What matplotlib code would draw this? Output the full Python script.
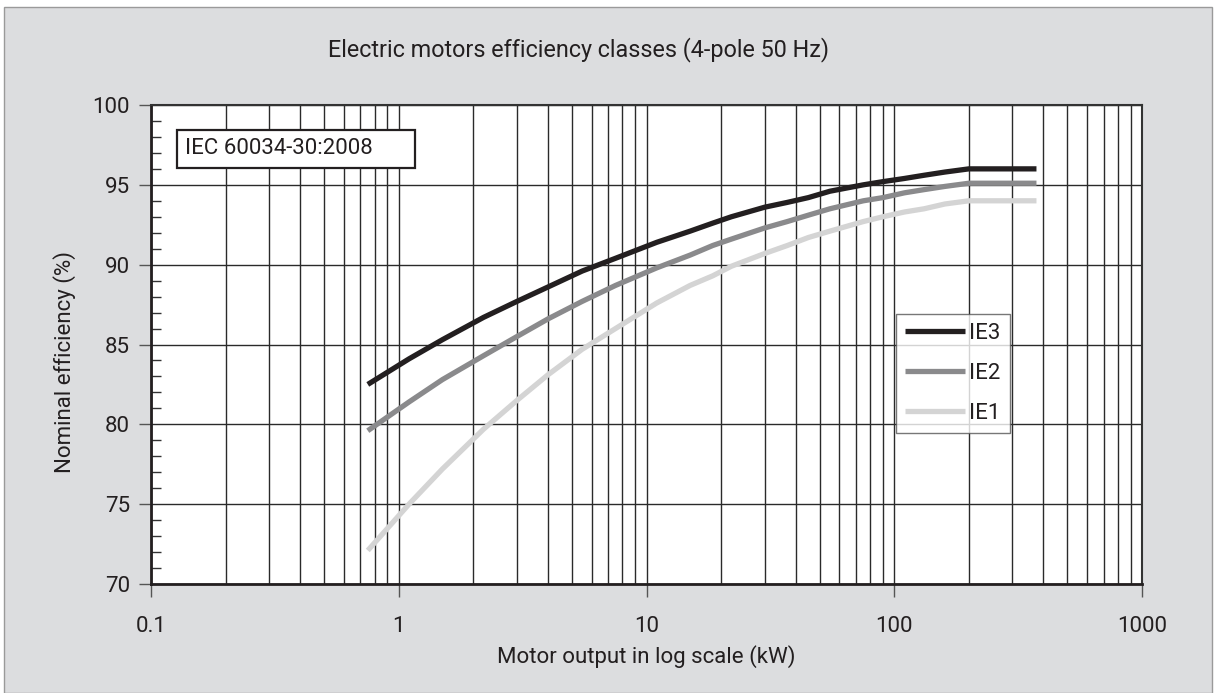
import matplotlib
matplotlib.use('Agg')
import matplotlib.pyplot as plt
from matplotlib.patches import Rectangle
from matplotlib.ticker import LogLocator, FixedLocator, NullFormatter

# IEC 60034-30:2008, 4-pole 50 Hz
kw = [0.75, 1.1, 1.5, 2.2, 3, 4, 5.5, 7.5, 11, 15, 18.5, 22, 30, 37, 45, 55,
      75, 90, 110, 132, 160, 200, 250, 315, 355, 375]
ie3 = [82.5, 84.1, 85.3, 86.7, 87.7, 88.6, 89.6, 90.4, 91.4, 92.1, 92.6, 93.0, 93.6,
       93.9, 94.2, 94.6, 95.0, 95.2, 95.4, 95.6, 95.8, 96.0, 96.0, 96.0, 96.0, 96.0]
ie2 = [79.6, 81.4, 82.8, 84.3, 85.5, 86.6, 87.7, 88.7, 89.8, 90.6, 91.2, 91.6, 92.3,
       92.7, 93.1, 93.5, 94.0, 94.2, 94.5, 94.7, 94.9, 95.1, 95.1, 95.1, 95.1, 95.1]
ie1 = [72.1, 75.0, 77.2, 79.7, 81.5, 83.1, 84.7, 86.0, 87.6, 88.7, 89.3, 89.9, 90.7,
       91.2, 91.7, 92.1, 92.7, 93.0, 93.3, 93.5, 93.8, 94.0, 94.0, 94.0, 94.0, 94.0]
xticks = [0.1, 1, 10, 100, 1000]
xticklabels = ['0.1', '1', '10', '100', '1000']
yticks = [70, 75, 80, 85, 90, 95, 100]

FONT = 'Roboto'
TXT = '#231F20'
FS = 16
plt.rcParams['font.family'] = FONT

W, H = 1214, 693
fig = plt.figure(figsize=(W/100, H/100), dpi=100)
fig.patch.set_facecolor('white')
bg = Rectangle((4/W, 0), 1208/W, (H-7)/H, transform=fig.transFigure,
               facecolor='#DCDDDF', edgecolor='#9A9A9A', lw=1.0, zorder=-10)
fig.patches.append(bg)

AX_L, AX_R, AX_T, AX_B = 151, 1142, 105, 584
ax = fig.add_axes([AX_L/W, 1-AX_B/H, (AX_R-AX_L)/W, (AX_B-AX_T)/H])
ax.set_facecolor('white')
ax.set_xscale('log')
ax.set_xlim(0.1, 1000); ax.set_ylim(70, 100)

ax.plot(kw, ie3, color='#231F20', lw=3.8, solid_capstyle='butt', label='IE3', zorder=4)
ax.plot(kw, ie2, color='#8A8A8C', lw=3.8, solid_capstyle='butt', label='IE2', zorder=4)
ax.plot(kw, ie1, color='#D4D4D4', lw=3.8, solid_capstyle='butt', label='IE1', zorder=4)

ax.xaxis.set_major_locator(FixedLocator(xticks))
ax.set_xticklabels(xticklabels)
ax.xaxis.set_minor_locator(LogLocator(base=10, subs=range(2, 10)))
ax.xaxis.set_minor_formatter(NullFormatter())
ax.yaxis.set_major_locator(FixedLocator(yticks))
ax.yaxis.set_minor_locator(FixedLocator([v for v in range(70, 101) if v % 5]))

ax.grid(True, which='major', axis='both', color='#2A2A2A', lw=1.0)
ax.grid(True, which='minor', axis='x', color='#2A2A2A', lw=1.0)
ax.set_axisbelow(True)

ax.tick_params(axis='both', which='major', direction='out', length=9, width=1.0,
               color='#555555', labelsize=FS, labelcolor=TXT, pad=6)
ax.tick_params(axis='x', which='major', pad=14)
ax.tick_params(axis='y', which='minor', direction='in', length=7, width=1.0, color='#333333')
ax.tick_params(axis='x', which='minor', length=0)
for sp in ['left', 'bottom']:
    ax.spines[sp].set_linewidth(2.0); ax.spines[sp].set_color('#231F20')
for sp in ['top', 'right']:
    ax.spines[sp].set_linewidth(1.5); ax.spines[sp].set_color('#333333')

ax.set_xlabel('Motor output in log scale (kW)', fontsize=FS, color=TXT, labelpad=6)
fig.text(65/W, 1-362/H, 'Nominal efficiency (%)', rotation=90, fontsize=FS, color=TXT,
         ha='center', va='center')
fig.text(579/W, 1-50/H, 'Electric motors efficiency classes (4-pole 50 Hz)', fontsize=16.8,
         color=TXT, ha='center', va='center')

# standard label box
fig.patches.append(Rectangle((177/W, 1-168/H), (415-177)/W, (168-130)/H,
                             transform=fig.transFigure, facecolor='white',
                             edgecolor='#231F20', lw=1.6, zorder=5))
fig.text(185/W, 1-149/H, 'IEC 60034-30:2008', fontsize=FS, color=TXT,
         ha='left', va='center', zorder=6)

ax_w, ax_h = AX_R-AX_L, AX_B-AX_T
leg = ax.legend(loc='upper left', bbox_to_anchor=((896-AX_L)/ax_w, (AX_B-314)/ax_h),
                frameon=True, fancybox=False, fontsize=FS, handlelength=2.7,
                handletextpad=0.2, labelspacing=0.85, borderpad=0.4, borderaxespad=0)
leg.get_frame().set_edgecolor('#555555')
leg.get_frame().set_linewidth(1.0)
leg.set_zorder(7)
for t in leg.get_texts():
    t.set_color(TXT)

fig.savefig('out.png', dpi=100)
